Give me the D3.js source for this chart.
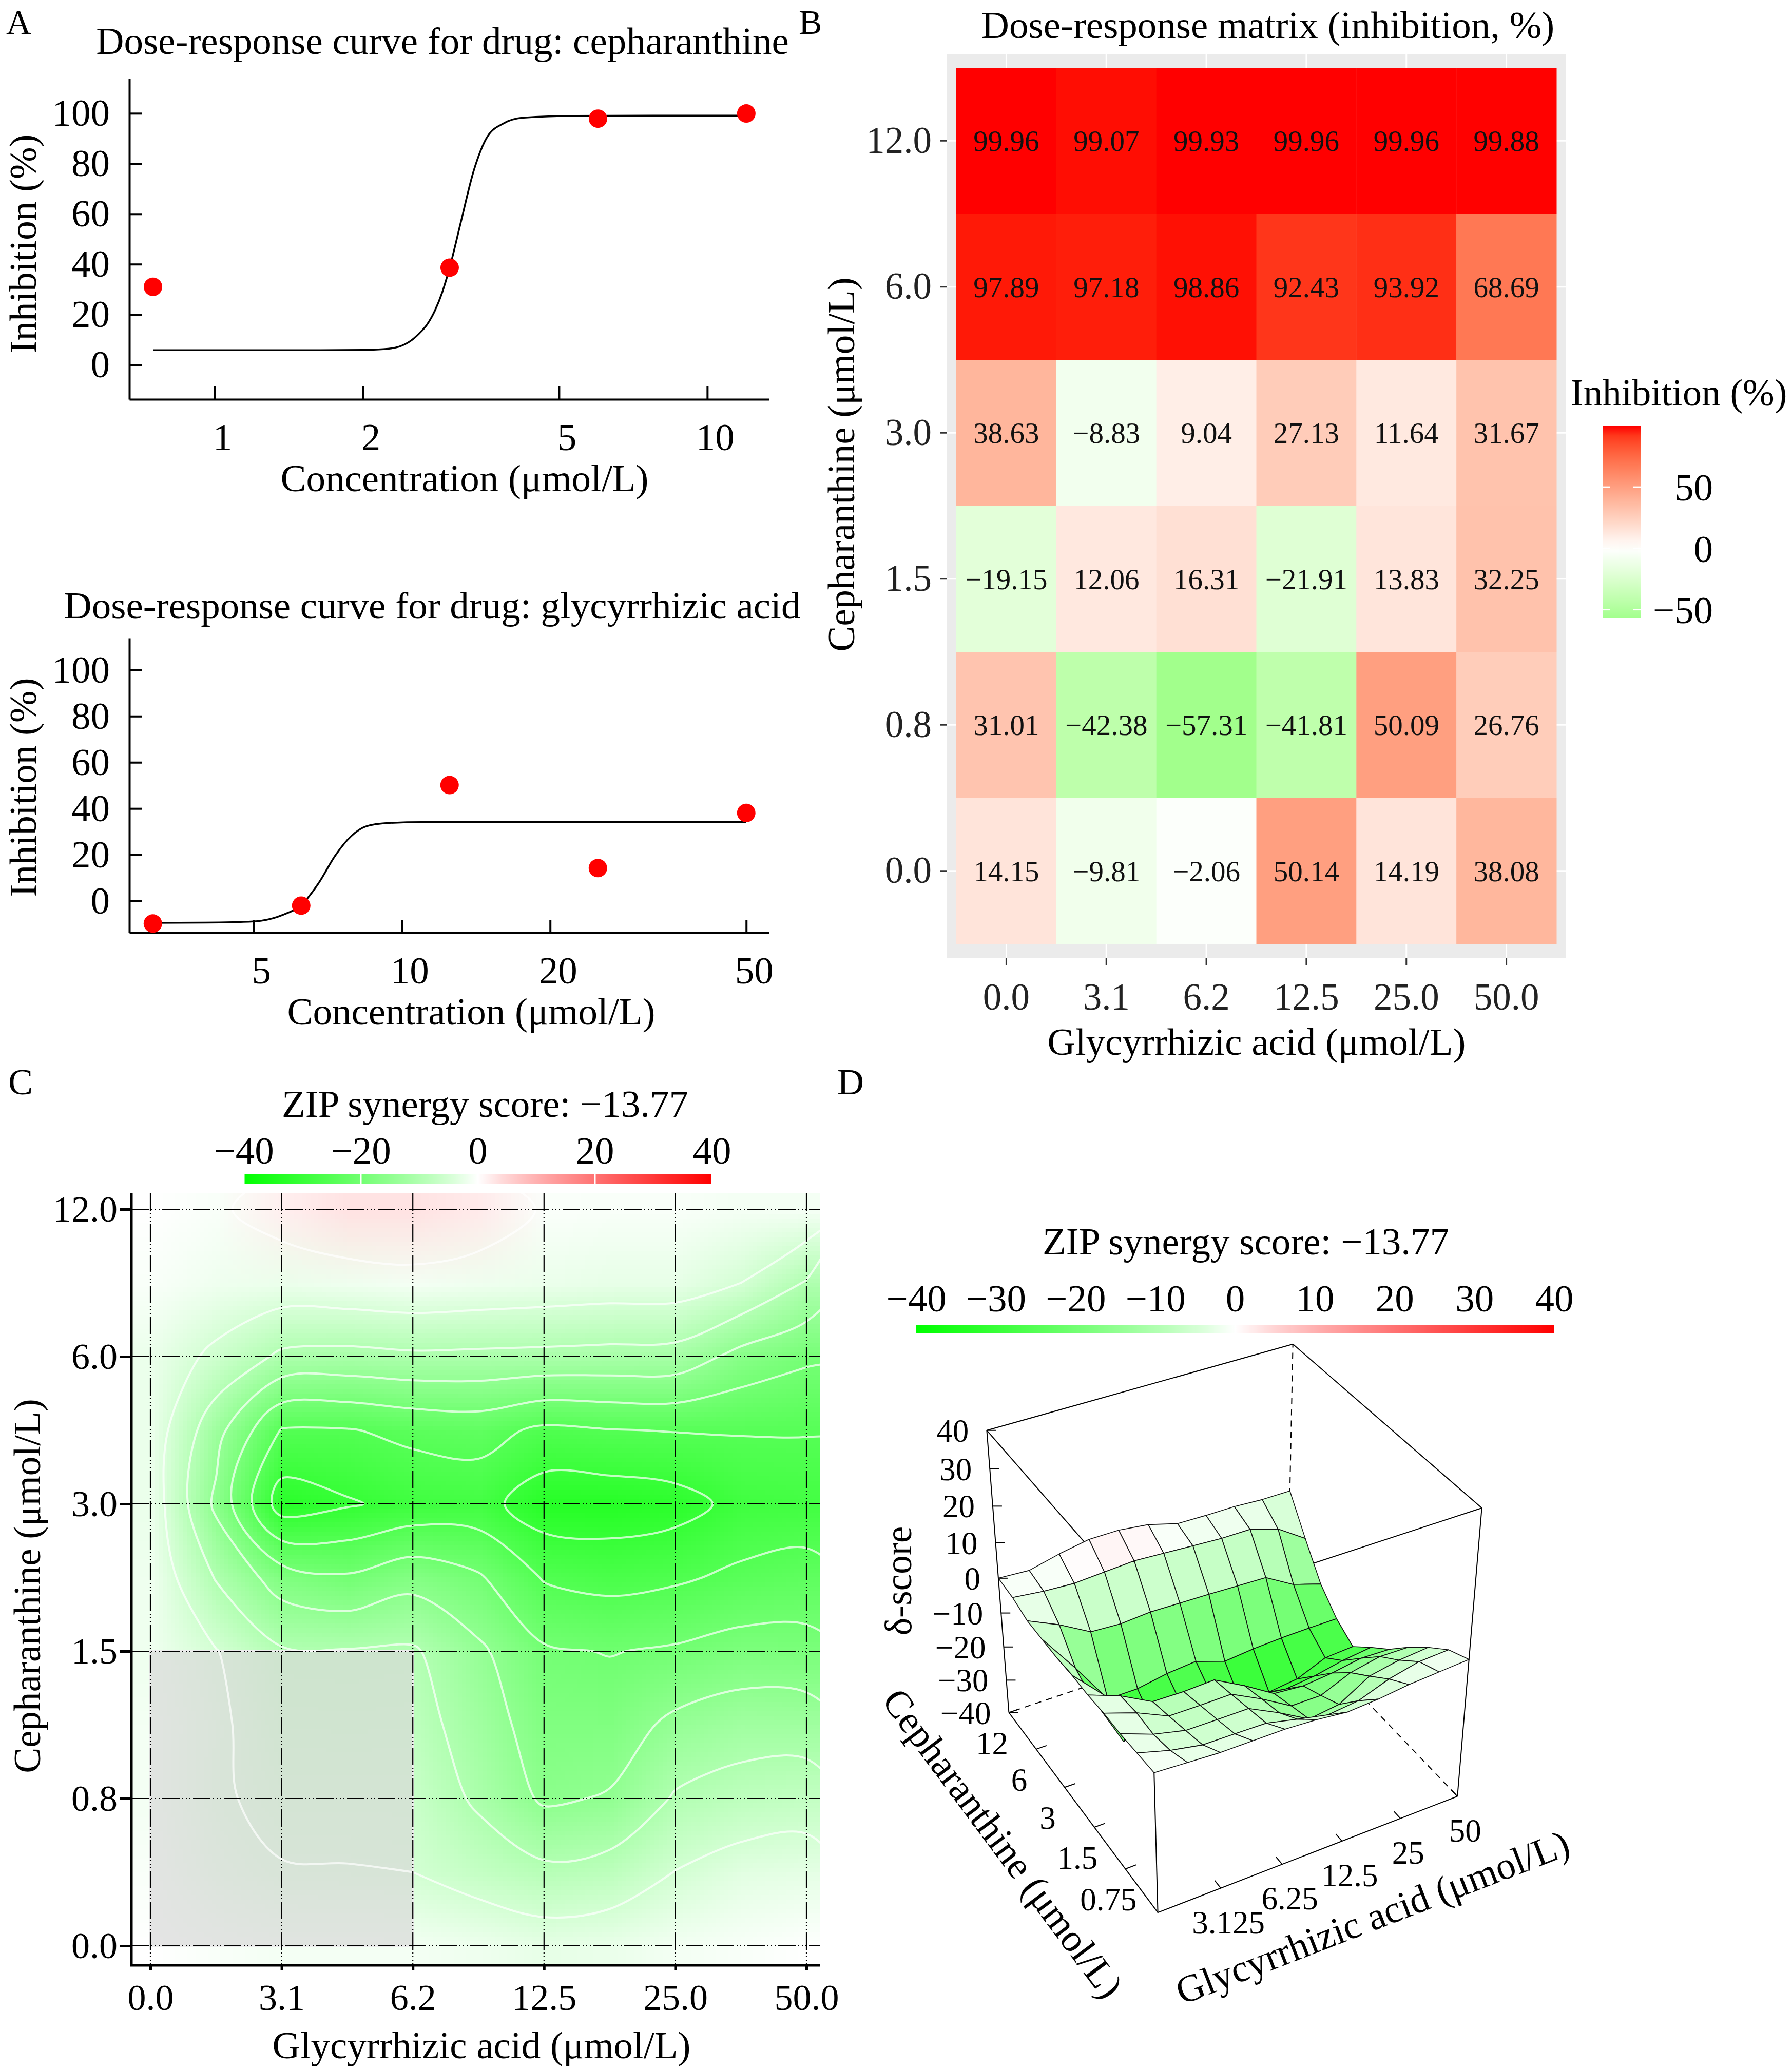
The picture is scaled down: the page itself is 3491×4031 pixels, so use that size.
<!DOCTYPE html>
<html>
<head>
<meta charset="utf-8">
<script src="https://cdn.jsdelivr.net/npm/d3@7"></script>
<style>
  body { margin: 0; background: #fff; }
  text { font-family: "Liberation Serif", "Times New Roman", serif; }
</style>
</head>
<body>
<svg id="fig"></svg>
<script>
// ---- data ----
// single-drug responses (first column / first row of the matrix)
const cephConc = [0.75, 1.5, 3, 6, 12];
const cephInhib = [31.01, -19.15, 38.63, 97.89, 99.96];
const glycConc = [3.125, 6.25, 12.5, 25, 50];
const glycInhib = [-9.81, -2.06, 50.14, 14.19, 38.08];

// fitted curves, points
const cephFitConc = [0.75, 1.5, 2.0, 2.2, 2.36, 2.5, 2.6, 2.7, 2.8, 2.9, 3.0, 3.16, 3.36, 3.57, 3.85, 4.24, 5.4, 8, 12];
const cephFitInhib = [5.8, 5.8, 5.9, 6.2, 7.1, 9.5, 12.4, 16, 21.5, 29, 38.6, 56.6, 77.4, 90.4, 95.9, 98.3, 99, 99.1, 99.1];
const glycFitConc = [3.125, 4, 5, 5.73, 6.25, 6.8, 7.32, 7.89, 8.47, 9.35, 11, 15, 25, 50];
const glycFitInhib = [-9.5, -9.4, -8.9, -6.1, -1.8, 8.1, 19.5, 28, 32.3, 33.7, 34.1, 34.1, 34.1, 34.1];

// dose-response matrix
const cephLevels = ["12.0", "6.0", "3.0", "1.5", "0.8", "0.0"];   // top to bottom
const glycLevels = ["0.0", "3.1", "6.2", "12.5", "25.0", "50.0"];
const inhibition = [
  [99.96, 99.07, 99.93, 99.96, 99.96, 99.88],
  [97.89, 97.18, 98.86, 92.43, 93.92, 68.69],
  [38.63, -8.83, 9.04, 27.13, 11.64, 31.67],
  [-19.15, 12.06, 16.31, -21.91, 13.83, 32.25],
  [31.01, -42.38, -57.31, -41.81, 50.09, 26.76],
  [14.15, -9.81, -2.06, 50.14, 14.19, 38.08]
];
const legendTicks = [50, 0, -50];

// ZIP delta scores, sampled every half dose step (rows: cepharanthine 12.0 -> 0.0)
const zipScore = -13.77;
const deltaRows = [
  [ 0.0,  -0.5,   1.5,   3.0,   3.0,   2.0,  -0.3,  -0.5,  -0.5,  -1.0,  -1.0],
  [-0.5,  -1.5,  -2.0,  -1.5,  -1.0,  -1.5,  -2.0,  -2.5,  -2.5,  -5.0, -10.4],
  [-2.0,  -6.0, -10.9, -11.4, -10.8, -11.0, -11.2, -11.5, -11.8, -16.6, -19.2],
  [-2.0, -13.2, -25.3, -25.3, -23.8, -23.1, -26.0, -25.2, -24.8, -24.7, -24.7],
  [-2.0, -16.0, -32.5, -30.5, -28.5, -28.0, -33.0, -33.0, -32.0, -28.5, -28.0],
  [-1.5, -10.3, -17.4, -19.4, -16.7, -19.4, -25.4, -26.6, -25.7, -24.0, -23.0],
  [-1.5,  -4.8,  -9.5,  -9.7,  -9.4, -14.1, -19.4, -20.2, -19.4, -18.0, -18.3],
  [-1.0,  -4.0,  -8.0,  -8.1,  -8.0, -12.4, -17.5, -17.5, -13.9, -12.2, -12.4],
  [-1.0,  -4.3,  -6.4,  -6.5,  -6.5, -10.8, -15.7, -14.6,  -9.5,  -7.9,  -7.2],
  [-0.5,  -3.0,  -4.7,  -4.8,  -5.0,  -7.0,  -8.9,  -8.0,  -4.9,  -3.0,  -2.6],
  [ 0.0,  -0.5,  -1.0,  -1.0,  -1.0,  -1.5,  -2.5,  -2.0,  -1.0,  -0.5,   0.0]
];
const contourLevels = [-30, -25, -20, -15, -10, -5, 0];
const zipTicksC = [-40, -20, 0, 20, 40];
const zipTicksD = [-40, -30, -20, -10, 0, 10, 20, 30, 40];
const cephTicks3d = ["0.75", "1.5", "3", "6", "12"];
const glycTicks3d = ["3.125", "6.25", "12.5", "25", "50"];

// ---- page ----
const W = 3491, H = 4031;
const serif = '"Liberation Serif","Times New Roman",serif';
const svg = d3.select("#fig").attr("width", W).attr("height", H);
svg.append("rect").attr("width", W).attr("height", H).attr("fill", "#fff");
const defs = svg.append("defs");

function label(x, y, txt, size, anchor) {
    return svg.append("text")
        .attr("x", x).attr("y", y)
        .attr("font-family", serif)
        .attr("font-size", size || 75)
        .attr("text-anchor", anchor || "middle")
        .attr("fill", "#000")
        .text(txt);
}
function vlabel(x, y, txt, size) {
    return svg.append("text")
        .attr("transform", "translate(" + x + "," + y + ") rotate(-90)")
        .attr("font-family", serif)
        .attr("font-size", size || 75)
        .attr("text-anchor", "middle")
        .text(txt);
}
function styleAxis(g, size) {
    g.attr("font-family", serif).attr("font-size", size);
    g.selectAll("text").attr("fill", "#000");
}

// panel letters
label(12, 66, "A", 68, "start");
label(1556, 66, "B", 68, "start");
label(16, 2132, "C", 72, "start");
label(1631, 2132, "D", 72, "start");

// ---------- panel A : dose-response curves ----------
function doseCurve(opt) {
    const x = d3.scaleLog().domain(opt.xDomain).range([252, 1498]);
    const y = d3.scaleLinear().domain([-13.75, 113.85]).range(opt.yRange);

    label(opt.titleX, opt.titleY, opt.title);

    const gy = svg.append("g").attr("transform", "translate(252,0)")
        .call(d3.axisLeft(y).tickValues(d3.range(0, 101, 20)).tickSizeInner(-25).tickSizeOuter(0).tickPadding(38));
    const gx = svg.append("g").attr("transform", "translate(0," + opt.yRange[0] + ")")
        .call(d3.axisBottom(x).tickValues(opt.ticks).tickFormat(d3.format("d")).tickSizeInner(-25).tickSizeOuter(0).tickPadding(46));
    [gx, gy].forEach(g => {
        styleAxis(g, 75);
        g.selectAll("path, line").attr("stroke", "#000").attr("stroke-width", 4);
    });
    gx.selectAll("text").attr("dx", 15);

    const fit = opt.fitX.map((c, i) => [c, opt.fitY[i]]);
    svg.append("path")
        .attr("d", d3.line().x(d => x(d[0])).y(d => y(d[1])).curve(d3.curveMonotoneX)(fit))
        .attr("fill", "none").attr("stroke", "#000").attr("stroke-width", 3.5);

    const pts = opt.conc.map((c, i) => ({ c: c, v: opt.resp[i] }))
        .filter(d => d.v >= y.domain()[0]);
    svg.append("g").selectAll("circle").data(pts).enter().append("circle")
        .attr("cx", d => x(d.c)).attr("cy", d => y(d.v)).attr("r", 18)
        .attr("fill", "#ff0000");

    label(opt.xlabX, opt.xlabY, "Concentration (μmol/L)");
    vlabel(70, opt.ylabY, "Inhibition (%)");
}

doseCurve({
    title: "Dose-response curve for drug: cepharanthine", titleX: 862, titleY: 105,
    xDomain: [0.6716, 13.34], yRange: [778, 153], ticks: [1, 2, 5, 10],
    conc: cephConc, resp: cephInhib, fitX: cephFitConc, fitY: cephFitInhib,
    xlabX: 905, xlabY: 957, ylabY: 475
});
doseCurve({
    title: "Dose-response curve for drug: glycyrrhizic acid", titleX: 842, titleY: 1205,
    xDomain: [2.80, 55.6], yRange: [1817, 1243], ticks: [5, 10, 20, 50],
    conc: glycConc, resp: glycInhib, fitX: glycFitConc, fitY: glycFitInhib,
    xlabX: 918, xlabY: 1996, ylabY: 1534
});

// ---------- panel B : dose-response matrix ----------
const xB = d3.scaleBand().domain(glycLevels).range([1863, 3032]);
const yB = d3.scaleBand().domain(cephLevels).range([132, 1839]);
const maxAbs = d3.max(inhibition.flat(), v => Math.abs(v));
function inhibColor(v) {
    return v >= 0 ? d3.interpolateLab("#ffffff", "#ff0000")(v / maxAbs)
                  : d3.interpolateLab("#ffffff", "#00ff00")(-v / maxAbs);
}

label(2470, 74, "Dose-response matrix (inhibition, %)");
svg.append("rect").attr("x", 1844).attr("y", 106).attr("width", 1207).attr("height", 1761).attr("fill", "#ebebeb");
const gridB = svg.append("g").attr("stroke", "#fff").attr("stroke-width", 3);
glycLevels.forEach(g => gridB.append("line").attr("x1", xB(g) + xB.bandwidth() / 2).attr("x2", xB(g) + xB.bandwidth() / 2).attr("y1", 106).attr("y2", 1867));
cephLevels.forEach(c => gridB.append("line").attr("y1", yB(c) + yB.bandwidth() / 2).attr("y2", yB(c) + yB.bandwidth() / 2).attr("x1", 1844).attr("x2", 3051));

const cells = [];
inhibition.forEach((row, r) => row.forEach((v, c) => cells.push({ ceph: cephLevels[r], glyc: glycLevels[c], v: v })));
svg.append("g").selectAll("rect").data(cells).enter().append("rect")
    .attr("x", d => xB(d.glyc)).attr("y", d => yB(d.ceph))
    .attr("width", xB.bandwidth() + 0.5).attr("height", yB.bandwidth() + 0.5)
    .attr("fill", d => inhibColor(d.v));
svg.append("g").selectAll("text").data(cells).enter().append("text")
    .attr("x", d => xB(d.glyc) + xB.bandwidth() / 2)
    .attr("y", d => yB(d.ceph) + yB.bandwidth() / 2)
    .attr("dy", "0.35em")
    .attr("text-anchor", "middle")
    .attr("font-family", serif).attr("font-size", 57).attr("fill", "#111")
    .text(d => d3.format(".2f")(d.v));

const gyB = svg.append("g").attr("transform", "translate(1844,0)")
    .call(d3.axisLeft(yB).tickSizeInner(13).tickSizeOuter(0).tickPadding(16));
const gxB = svg.append("g").attr("transform", "translate(0,1867)")
    .call(d3.axisBottom(xB).tickSizeInner(13).tickSizeOuter(0).tickPadding(35));
[gxB, gyB].forEach(g => {
    styleAxis(g, 73);
    g.select(".domain").remove();
    g.selectAll("line").attr("stroke", "#333").attr("stroke-width", 3);
    g.selectAll("text").attr("fill", "#222");
});
label(2448, 2055, "Glycyrrhizic acid (μmol/L)");
vlabel(1664, 905, "Cepharanthine (μmol/L)");

// legend
const flatInhib = inhibition.flat();
const legY = d3.scaleLinear().domain(d3.extent(flatInhib)).range([1205, 830]);
const gradB = defs.append("linearGradient").attr("id", "gradB")
    .attr("x1", 0).attr("y1", 1).attr("x2", 0).attr("y2", 0);
const ext = legY.domain();
d3.range(0, 1.0001, 0.05).forEach(t => {
    const v = ext[0] + t * (ext[1] - ext[0]);
    gradB.append("stop").attr("offset", t).attr("stop-color", inhibColor(v));
});
label(3060, 790, "Inhibition (%)", 74, "start");
svg.append("rect").attr("x", 3122).attr("y", legY(ext[1])).attr("width", 75)
    .attr("height", legY(ext[0]) - legY(ext[1])).attr("fill", "url(#gradB)");
legendTicks.forEach(t => {
    svg.append("line").attr("x1", 3122).attr("x2", 3137).attr("y1", legY(t)).attr("y2", legY(t)).attr("stroke", "#fff").attr("stroke-width", 3);
    svg.append("line").attr("x1", 3182).attr("x2", 3197).attr("y1", legY(t)).attr("y2", legY(t)).attr("stroke", "#fff").attr("stroke-width", 3);
    label(3337, legY(t), d3.format("d")(t), 75, "end").attr("dy", "0.35em");
});

// ---------- shared ZIP colour scale ----------
const zipColor = d3.scaleDivergingPow()
    .domain([-40, 0, 40]).exponent(0.85).clamp(true)
    .interpolator(d3.piecewise(d3.interpolateRgb, ["#00ff00", "#ffffff", "#ff0000"]));
function zipBar(id, x0, x1, y0, h, ticks, labelY, tickMarks) {
    const sx = d3.scaleLinear().domain([-40, 40]).range([x0, x1]);
    const grad = defs.append("linearGradient").attr("id", id);
    d3.range(-40, 40.01, 4).forEach(v => grad.append("stop").attr("offset", (v + 40) / 80).attr("stop-color", zipColor(v)));
    svg.append("rect").attr("x", x0).attr("y", y0).attr("width", x1 - x0).attr("height", h).attr("fill", "url(#" + id + ")");
    ticks.forEach(t => {
        if (tickMarks) svg.append("line").attr("x1", sx(t)).attr("x2", sx(t)).attr("y1", y0).attr("y2", y0 + h).attr("stroke", "#fff").attr("stroke-width", 3);
        label(sx(t), labelY, d3.format("d")(t));
    });
}

// ---------- panel C : 2D synergy map ----------
const xC = d3.scaleLinear().domain([0, 5]).range([293, 1571]);
const yC = d3.scaleLinear().domain([0, 5]).range([3791, 2356]);
const panelC = { x0: 256, x1: 1598, y0: 2325, y1: 3829 };
const nG = deltaRows[0].length;
const step = 5 / (nG - 1);

label(945, 2176, "ZIP synergy score: " + d3.format(".2f")(zipScore));
zipBar("gradC", 475, 1387, 2287, 19, zipTicksC, 2267, true);

defs.append("clipPath").attr("id", "clipC").append("rect")
    .attr("x", panelC.x0).attr("y", panelC.y0).attr("width", panelC.x1 - panelC.x0).attr("height", panelC.y1 - panelC.y0);
const gC = svg.append("g").attr("clip-path", "url(#clipC)");

// smooth raster of the sampled grid
const cv = document.createElement("canvas");
cv.width = nG; cv.height = deltaRows.length;
const ctx = cv.getContext("2d");
deltaRows.forEach((row, r) => row.forEach((v, c) => {
    ctx.fillStyle = zipColor(v);
    ctx.fillRect(c, r, 1, 1);
}));
gC.append("image")
    .attr("href", cv.toDataURL())
    .attr("x", xC(-step / 2)).attr("y", yC(5 + step / 2))
    .attr("width", xC(5 + step / 2) - xC(-step / 2))
    .attr("height", yC(-step / 2) - yC(5 + step / 2))
    .attr("preserveAspectRatio", "none")
    .style("image-rendering", "auto");

// highlighted area
gC.append("rect")
    .attr("x", xC(0)).attr("y", yC(2)).attr("width", xC(2) - xC(0)).attr("height", yC(0) - yC(2))
    .attr("fill", "#d9d9d9").attr("fill-opacity", 0.7)
    .attr("stroke", "#ececec").attr("stroke-width", 4);

// contour lines
const flatDelta = deltaRows.flat();
const contours = d3.contours().size([nG, deltaRows.length]).thresholds(contourLevels)(flatDelta);
const ringLine = d3.line()
    .x(p => xC((p[0] - 0.5) * step))
    .y(p => yC(5 - (p[1] - 0.5) * step))
    .curve(d3.curveCatmullRomClosed.alpha(0.5));
contours.forEach(ct => ct.coordinates.forEach(poly => poly.forEach(ring => {
    gC.append("path").attr("d", ringLine(ring.slice(0, -1)))
        .attr("fill", "none").attr("stroke", "#fff").attr("stroke-opacity", 0.7).attr("stroke-width", 4);
})));

// dash-dot grid
const gridC = svg.append("g").attr("stroke", "#000").attr("stroke-width", 2.2).attr("stroke-dasharray", "34,5,2,5,2,5,2,5");
d3.range(6).forEach(i => {
    gridC.append("line").attr("x1", xC(i)).attr("x2", xC(i)).attr("y1", panelC.y0).attr("y2", panelC.y1);
    gridC.append("line").attr("y1", yC(i)).attr("y2", yC(i)).attr("x1", panelC.x0).attr("x2", panelC.x1);
});

const cephC = cephLevels.slice().reverse();
const gyC = svg.append("g").attr("transform", "translate(256,0)")
    .call(d3.axisLeft(yC).tickValues(d3.range(6)).tickFormat(i => cephC[i]).tickSizeInner(23).tickSizeOuter(0).tickPadding(4));
const gxC = svg.append("g").attr("transform", "translate(0,3829)")
    .call(d3.axisBottom(xC).tickValues(d3.range(6)).tickFormat(i => glycLevels[i]).tickSizeInner(10).tickSizeOuter(0).tickPadding(26));
[gxC, gyC].forEach(g => {
    styleAxis(g, 72);
    g.select(".domain").remove();
    g.selectAll("line").attr("stroke", "#000").attr("stroke-width", 5);
});
svg.append("line").attr("x1", 256).attr("x2", 256).attr("y1", panelC.y0).attr("y2", panelC.y1 + 2).attr("stroke", "#000").attr("stroke-width", 5);
svg.append("line").attr("x1", 254).attr("x2", panelC.x1).attr("y1", panelC.y1).attr("y2", panelC.y1).attr("stroke", "#000").attr("stroke-width", 5);
label(938, 4010, "Glycyrrhizic acid (μmol/L)");
vlabel(78, 3090, "Cepharanthine (μmol/L)");

// ---------- panel D : 3D synergy surface ----------
label(2427, 2444, "ZIP synergy score: " + d3.format(".2f")(zipScore));
zipBar("gradD", 1785, 3028, 2581, 16, zipTicksD, 2555, false);

const cam = { beta: 61, eps: 37, dist: 6.3, scale: 674, zHalf: 0.515, cx: 2392, cy: 3152 };
const uD = d3.scaleLinear().domain([0, 5]).range([0, 1]);      // glycyrrhizic dose index
const vD = d3.scaleLinear().domain([0, 5]).range([0, 1]);      // cepharanthine dose index
const wD = d3.scaleLinear().domain([-40, 40]).range([-1, 1]);  // delta score
function project(u, v, w) {
    const b = cam.beta * Math.PI / 180, e = cam.eps * Math.PI / 180;
    const px = u - 0.5, py = v - 0.5, pz = w * cam.zHalf;
    const h = px * Math.cos(b) + py * Math.sin(b);
    const rx = px * Math.sin(b) - py * Math.cos(b);
    const up = Math.sin(e) * h + Math.cos(e) * pz;
    const depth = Math.cos(e) * h - Math.sin(e) * pz;
    const s = cam.dist / (cam.dist + depth);
    return [cam.cx + cam.scale * s * rx, cam.cy - cam.scale * s * up, depth];
}
const FB = project(0, 0, -1), RB = project(1, 0, -1), LB = project(0, 1, -1), BB = project(1, 1, -1);
const FT = project(0, 0, 1), RT = project(1, 0, 1), LT = project(0, 1, 1), BT = project(1, 1, 1);
const gD = svg.append("g").attr("stroke", "#000").attr("stroke-width", 2).attr("fill", "none");
function edge(a, b, dashed) {
    const l = gD.append("line").attr("x1", a[0]).attr("y1", a[1]).attr("x2", b[0]).attr("y2", b[1]);
    if (dashed) l.attr("stroke-dasharray", "12,10");
}
edge(BB, LB, true); edge(BB, RB, true); edge(BB, BT, true);
[[LT, BT], [BT, RT], [RT, FT], [FT, LT], [LB, LT], [RB, RT], [FB, FT], [LB, FB], [FB, RB]].forEach(p => edge(p[0], p[1]));

// surface facets, painted back to front
const quads = [];
for (let r = 0; r < deltaRows.length - 1; r++) {
    for (let c = 0; c < nG - 1; c++) {
        const idx = [[c, r], [c + 1, r], [c + 1, r + 1], [c, r + 1]];
        const pts = idx.map(([cc, rr]) => project(uD(cc * step), vD(5 - rr * step), wD(deltaRows[rr][cc])));
        quads.push({
            pts: pts,
            depth: d3.mean(pts, p => p[2]),
            v: d3.mean(idx, ([cc, rr]) => deltaRows[rr][cc])
        });
    }
}
quads.sort((a, b) => b.depth - a.depth);
svg.append("g").selectAll("path").data(quads).enter().append("path")
    .attr("d", d => "M" + d.pts.map(p => p[0] + "," + p[1]).join("L") + "Z")
    .attr("fill", d => zipColor(d.v))
    .attr("stroke", "#111").attr("stroke-width", 1.6).attr("stroke-linejoin", "round");

// z axis
zipTicksD.forEach(t => {
    const p = project(0, 1, wD(t));
    svg.append("line").attr("x1", p[0]).attr("x2", p[0] + 18).attr("y1", p[1]).attr("y2", p[1]).attr("stroke", "#000").attr("stroke-width", 2);
    label(p[0] - 35, p[1], d3.format("d")(t), 63, "end").attr("dy", "0.35em");
});
// cepharanthine axis
cephTicks3d.forEach((t, i) => {
    const p = project(0, vD(i + 1), -1), q = project(0.035, vD(i + 1), -1);
    svg.append("line").attr("x1", p[0]).attr("y1", p[1]).attr("x2", q[0]).attr("y2", q[1]).attr("stroke", "#000").attr("stroke-width", 2);
    label(p[0] - 33, p[1] + 59, t, 63).attr("dy", "0.35em");
});
// glycyrrhizic axis
glycTicks3d.forEach((t, i) => {
    const p = project(uD(i + 1), 0, -1), q = project(uD(i + 1), 0.035, -1);
    svg.append("line").attr("x1", p[0]).attr("y1", p[1]).attr("x2", q[0]).attr("y2", q[1]).attr("stroke", "#000").attr("stroke-width", 2);
    label(p[0] + 15, p[1] + 66, t, 63).attr("dy", "0.35em");
});
vlabel(1775, 3080, "δ-score", 73);
const cMid = project(0, 0.5, -1);
const cAng = Math.atan2(FB[1] - LB[1], FB[0] - LB[0]) * 180 / Math.PI;
svg.append("text")
    .attr("transform", "translate(" + (cMid[0] - 148) + "," + (cMid[1] + 70) + ") rotate(" + cAng + ")")
    .attr("font-family", serif).attr("font-size", 75).attr("text-anchor", "middle").attr("dy", "0.35em")
    .text("Cepharanthine (μmol/L)");
const gMid = project(0.5, 0, -1);
const gAng = Math.atan2(RB[1] - FB[1], RB[0] - FB[0]) * 180 / Math.PI;
svg.append("text")
    .attr("transform", "translate(" + (gMid[0] + 117) + "," + (gMid[1] + 125) + ") rotate(" + gAng + ")")
    .attr("font-family", serif).attr("font-size", 75).attr("text-anchor", "middle").attr("dy", "0.35em")
    .text("Glycyrrhizic acid (μmol/L)");
</script>
</body>
</html>
